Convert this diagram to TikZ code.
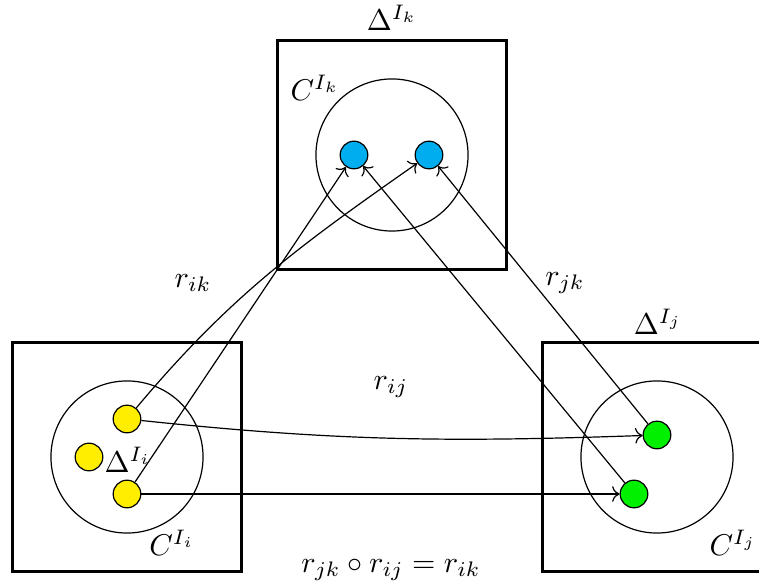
\documentclass[tikz,border=0pt]{standalone}
\usepackage{amsmath,amssymb}
\usepackage{tikz}
\usetikzlibrary{arrows.meta,positioning}
\definecolor{dotyellow}{HTML}{FFEE00}
\definecolor{dotblue}{HTML}{00AEEF}
\definecolor{dotgreen}{HTML}{00F000}
\tikzset{frame/.style={draw,line width=1pt,minimum size=2.67cm,inner sep=0pt},cloud/.style={draw,circle,minimum size=1.78cm,inner sep=0pt},pt/.style={draw,circle,minimum size=9.2pt,inner sep=0pt},arr/.style={->,thin}}

\begin{document}
\begin{tikzpicture}[x=0.0117cm,y=-0.0117cm]
\useasboundingbox (0,0) rectangle (759,585);
% frames and clouds
\node[frame] (Fi) at (127,457) {};
\node[frame] (Fk) at (392,155) {};
\node[frame] (Fj) at (657,457) {};
\node[cloud] (Ci) at (127,457) {};
\node[cloud] (Ck) at (392,155) {};
\node[cloud] (Cj) at (657,457) {};
% points
\node[pt,fill=dotyellow] (i1) at (127,419) {};
\node[pt,fill=dotyellow] (i2) at (89,457) {};
\node[pt,fill=dotyellow] (i3) at (127,494) {};
\node[pt,fill=dotblue] (k1) at (354,155) {};
\node[pt,fill=dotblue] (k2) at (429,155) {};
\node[pt,fill=dotgreen] (j1) at (657,435) {};
\node[pt,fill=dotgreen] (j2) at (634,494) {};
% labels
\node (Di) at (128,460) {$\Delta^{I_i}$};
\node (Dk) at (392,18) {$\Delta^{I_k}$};
\node (Dj) at (658,322) {$\Delta^{I_j}$};
\node (Li) at (172,543) {$C^{I_i}$};
\node (Lk) at (315,88) {$C^{I_k}$};
\node (Lj) at (733,543) {$C^{I_j}$};
\node (rik) at (193,283) {$r_{ik}$};
\node (rjk) at (565,283) {$r_{jk}$};
\node (rij) at (391,387) {$r_{ij}$};
\node (comp) at (391,570) {$r_{jk}\circ r_{ij}=r_{ik}$};
% maps
\draw[arr] (i3)--(k1);
\draw[arr] (i1) to[out=50,in=215] (k2);
\draw[arr] (i1) to[out=-6,in=182] (j1);
\draw[arr] (i3)--(j2);
\draw[arr] (j1)--(k2);
\draw[arr] (j2)--(k1);
\end{tikzpicture}
\end{document}
